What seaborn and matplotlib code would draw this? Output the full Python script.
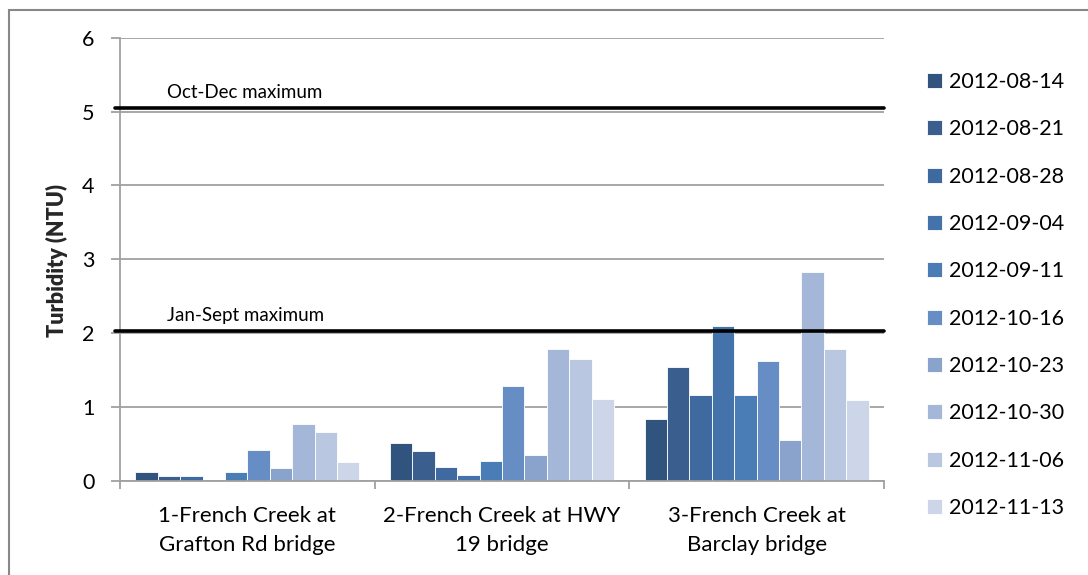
import matplotlib
matplotlib.use("Agg")
import matplotlib.pyplot as plt
import matplotlib.transforms as mtransforms
from matplotlib.patches import Rectangle
import seaborn as sns
import pandas as pd
import numpy as np

# --- data ---
sites = ["1-French Creek at\nGrafton Rd bridge",
         "2-French Creek at HWY\n19 bridge",
         "3-French Creek at\nBarclay bridge"]
dates = ["2012-08-14", "2012-08-21", "2012-08-28", "2012-09-04", "2012-09-11",
         "2012-10-16", "2012-10-23", "2012-10-30", "2012-11-06", "2012-11-13"]
site1 = [0.12, 0.07, 0.07, np.nan, 0.12, 0.42, 0.18, 0.77, 0.66, 0.26]
site2 = [0.51, 0.40, 0.19, 0.08, 0.27, 1.29, 0.35, 1.78, 1.65, 1.11]
site3 = [0.84, 1.54, 1.16, 2.10, 1.16, 1.62, 0.56, 2.83, 1.78, 1.10]
jan_sept_max = 2.03
oct_dec_max = 5.05
colors = ["#31547e", "#3a5f8e", "#3e6aa0", "#4472aa", "#4a7cb6",
          "#678ec4", "#89a3cc", "#a4b7d8", "#bac7e0", "#ccd6e8"]

rows = []
for site, vals in zip(sites, [site1, site2, site3]):
    for d, v in zip(dates, vals):
        rows.append({"site": site, "date": d, "turbidity": v})
df = pd.DataFrame(rows)

sns.set_style("white")
plt.rcParams["font.family"] = ["Lato", "DejaVu Sans"]
plt.rcParams["text.color"] = "black"
plt.rcParams["xtick.color"] = "black"
plt.rcParams["ytick.color"] = "black"

fig = plt.figure(figsize=(10.88, 5.75), dpi=100)
ax = fig.add_axes([120 / 1088, 1 - 481 / 575, 764 / 1088, 443.3 / 575])

sns.barplot(data=df, x="site", y="turbidity", hue="date", hue_order=dates,
            order=sites, palette=colors, width=0.88, saturation=1,
            edgecolor="white", linewidth=0.6, ax=ax, legend=True, errorbar=None)

grid_c = "#a0a0a0"
ax.set_ylim(0, 6)
ax.set_xlim(-0.5, 2.5)
ax.set_yticks(range(0, 7))
ax.yaxis.grid(True, color=grid_c, linewidth=1.3)
ax.set_axisbelow(True)
for s in ["top", "right"]:
    ax.spines[s].set_visible(False)
for s in ["left", "bottom"]:
    ax.spines[s].set_color(grid_c)
    ax.spines[s].set_linewidth(1.3)

ax.tick_params(axis="y", length=6.5, width=1.3, color=grid_c, pad=12,
               labelsize=15.5, left=True, labelcolor="black")

# boundaries as major ticks, site names as minor ticks
ax.set_xticks([-0.5, 0.5, 1.5, 2.5])
ax.set_xticklabels([])
ax.set_xticks([0, 1, 2], minor=True)
ax.set_xticklabels(sites, minor=True, fontsize=16, linespacing=1.55)
ax.tick_params(axis="x", which="major", length=6, width=1.3, color=grid_c,
               bottom=True)
ax.tick_params(axis="x", which="minor", length=0, pad=18, labelcolor="black")
ax.set_xlabel("")

ax.set_ylabel("Turbidity (NTU)", fontsize=15.5, fontweight="heavy")
ax.yaxis.label.set_va("center")
ax.yaxis.set_label_coords(-(120 - 56.5) / 764, (481 - 260.5) / 443.3)

# reference maxima
trans = mtransforms.blended_transform_factory(ax.transAxes, ax.transData)
for val, label in [(jan_sept_max, "Jan-Sept maximum"),
                   (oct_dec_max, "Oct-Dec maximum")]:
    ax.axhline(val, xmin=-0.006, xmax=1, color="black", linewidth=2.6,
               clip_on=False, zorder=5)
    ax.text(0.0615, val + 0.1, label, transform=trans, fontsize=13.5,
            va="bottom", ha="left")

# legend
handles, labels = ax.get_legend_handles_labels()
ax.legend(handles, labels, loc="upper left", frameon=False,
          bbox_to_anchor=(927 / 1088, 1 - 72 / 575),
          bbox_transform=fig.transFigure, fontsize=15.5,
          handlelength=0.7, handleheight=0.7, handletextpad=0.3,
          labelspacing=1.27, borderpad=0, borderaxespad=0)

# outer chart border (cut off at right and bottom)
fig.add_artist(Rectangle((9 / 1088, -0.1), 1.2, 1 - 10 / 575 + 0.1,
                         transform=fig.transFigure, fill=False,
                         edgecolor="#888888", linewidth=1.5))

fig.savefig("out.png", dpi=100)
